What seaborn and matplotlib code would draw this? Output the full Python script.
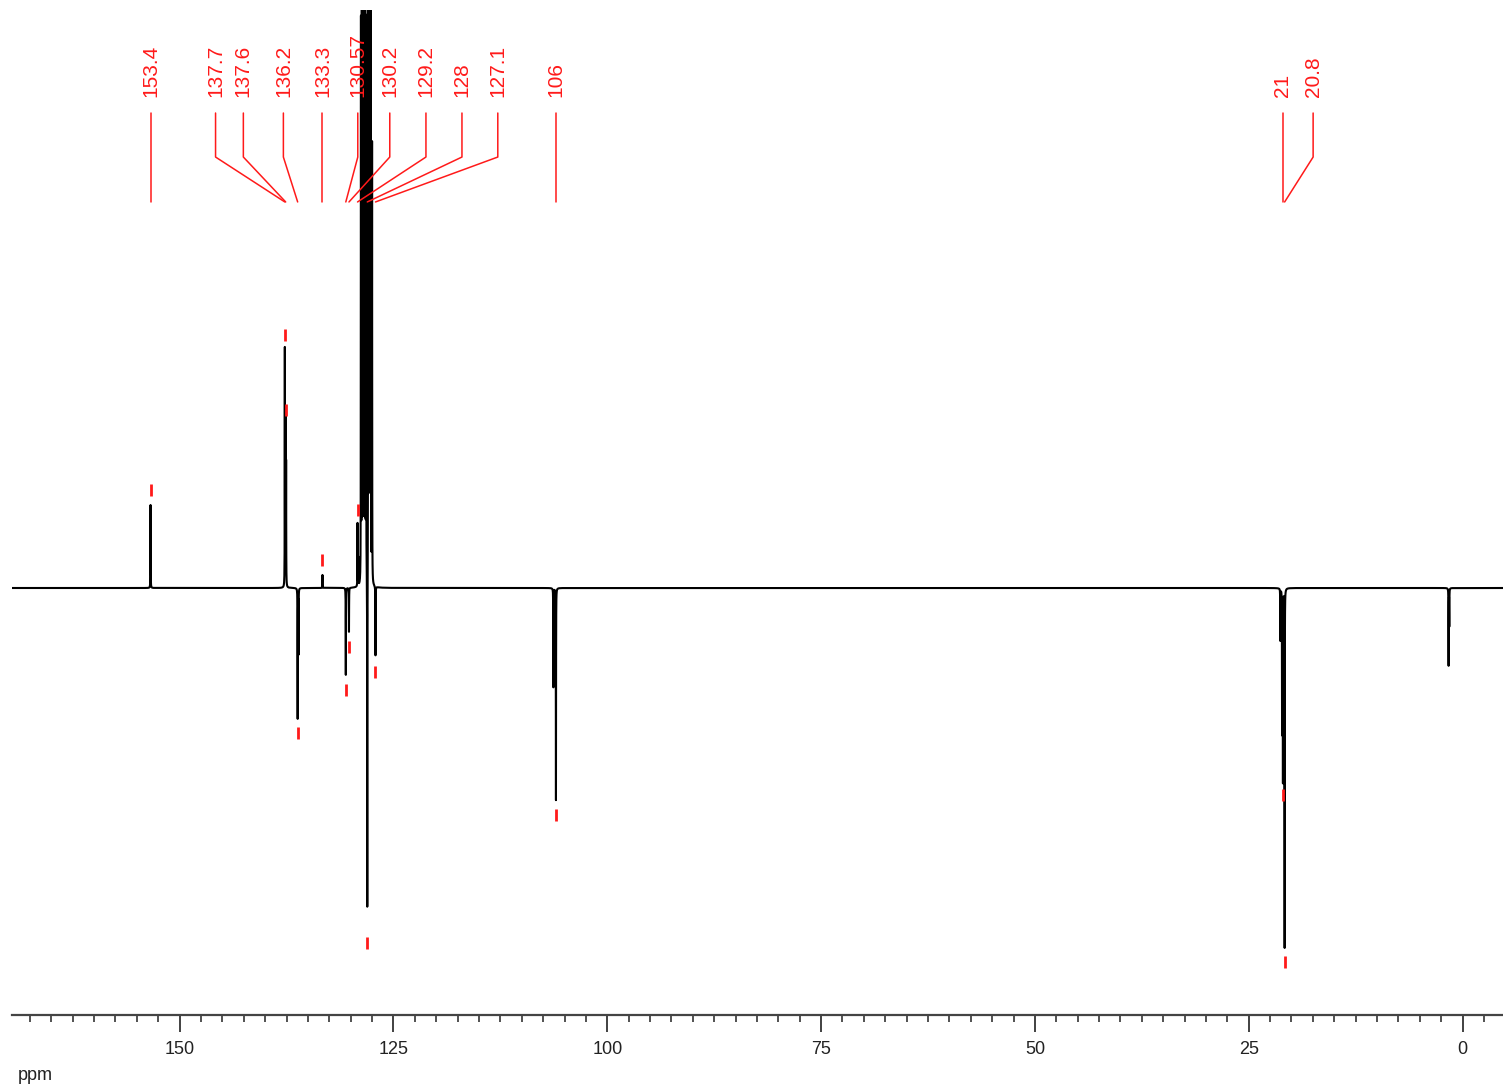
import numpy as np
import pandas as pd
import seaborn as sns
import matplotlib.pyplot as plt
from matplotlib.ticker import MultipleLocator

# Picked peaks (ppm) with their labels and intensities
peak_labels = ["153.4", "137.7", "137.6", "136.2", "133.3", "130.57", "130.2",
               "129.2", "128", "127.1", "106", "21", "20.8"]
peak_ppm = [153.4, 137.7, 137.6, 136.2, 133.3, 130.57, 130.2,
            129.2, 128.06, 127.1, 106.0, 21.0, 20.8]
peak_height = [83, 238, 163, -130, 13, -87, -44,
               63, -340, -69, -212, -192, -359]

# Unlabelled lines: shoulders and a small impurity near 1.6 ppm
extra_ppm = [137.55, 136.1, 129.1, 106.3, 21.3, 21.1, 1.63, 1.55]
extra_height = [118, -65, 28, -99, -52, -144, -77, -37]

# Solvent multiplet around 128 ppm (runs off the top of the plot)
solvent_ppm = [128.8, 128.7, 128.6, 128.5, 128.4, 128.3, 128.2,
               127.95, 127.85, 127.75, 127.65, 127.5]
solvent_height = [560, 560, 560, 560, 560, 560, 560,
                  800, 800, 800, 800, 438]

# Where the labels sit along the axis (ppm) after the software spreads them out
label_pos = [153.4, 145.8, 142.55, 137.87, 133.3, 129.17, 125.43,
             121.2, 116.99, 112.8, 106.0, 21.0, 17.47]

# Build the trace from the peak list (narrow Lorentzian lines)
grid = np.arange(-4.8, 169.7, 0.0025)
all_ppm = np.array(peak_ppm + extra_ppm + solvent_ppm)
all_h = np.array(peak_height + extra_height + solvent_height, dtype=float)
hw = 0.012
intensity = np.zeros_like(grid)
for p, h in zip(all_ppm, all_h):
    intensity += h / (1 + ((grid - p) / hw) ** 2)
spec = pd.DataFrame({"ppm": grid, "intensity": intensity})

sns.set_theme(style="white")
plt.rcParams['font.family'] = ['Liberation Sans', 'DejaVu Sans']

fig = plt.figure(figsize=(15.03, 10.88), dpi=100)
ax = fig.add_axes([12 / 1503, 73 / 1088, 1491 / 1503, 1005 / 1088])

sns.lineplot(data=spec, x="ppm", y="intensity", color="black", linewidth=1.5,
             estimator=None, sort=False, ax=ax)

ax.set_xlim(169.6, -4.73)
ax.set_ylim(-427, 578)

# peak-pick markers just beyond each tip
sign = np.sign(peak_height)
tips = np.array(peak_height, dtype=float)
ax.vlines(peak_ppm, tips + sign * 9, tips + sign * 21, colors="#ff1a1a", linewidth=2)

# labels and connector lines
tr = ax.get_xaxis_transform()
for lab, p, lx in zip(peak_labels, peak_ppm, label_pos):
    ax.text(lx, 0.9134, lab, rotation=90, ha="center", va="bottom",
            color="#ff1a1a", fontsize=15, transform=tr, clip_on=False)
    ax.plot([lx, lx, p], [0.8975, 0.8537, 0.809], color="#ff1a1a",
            linewidth=1.1, transform=tr, clip_on=False)

# axis styling
for s in ["left", "top", "right"]:
    ax.spines[s].set_visible(False)
ax.spines["bottom"].set_color("#444444")
ax.spines["bottom"].set_linewidth(1.6)
ax.set_yticks([])
ax.set_xlabel("")
ax.set_ylabel("")
ax.xaxis.set_major_locator(MultipleLocator(25))
ax.xaxis.set_minor_locator(MultipleLocator(2.5))
ax.tick_params(axis="x", which="major", bottom=True, direction="out", length=12,
               width=1.3, color="#333333", labelsize=13, labelcolor="#222222", pad=7)
ax.tick_params(axis="x", which="minor", bottom=True, direction="out", length=5,
               width=1.2, color="#333333")

fig.text(35 / 1503, 1 - 1075 / 1088, "ppm", ha="center", va="center",
         fontsize=13, color="#222222")

fig.savefig("out.png", dpi=100)
